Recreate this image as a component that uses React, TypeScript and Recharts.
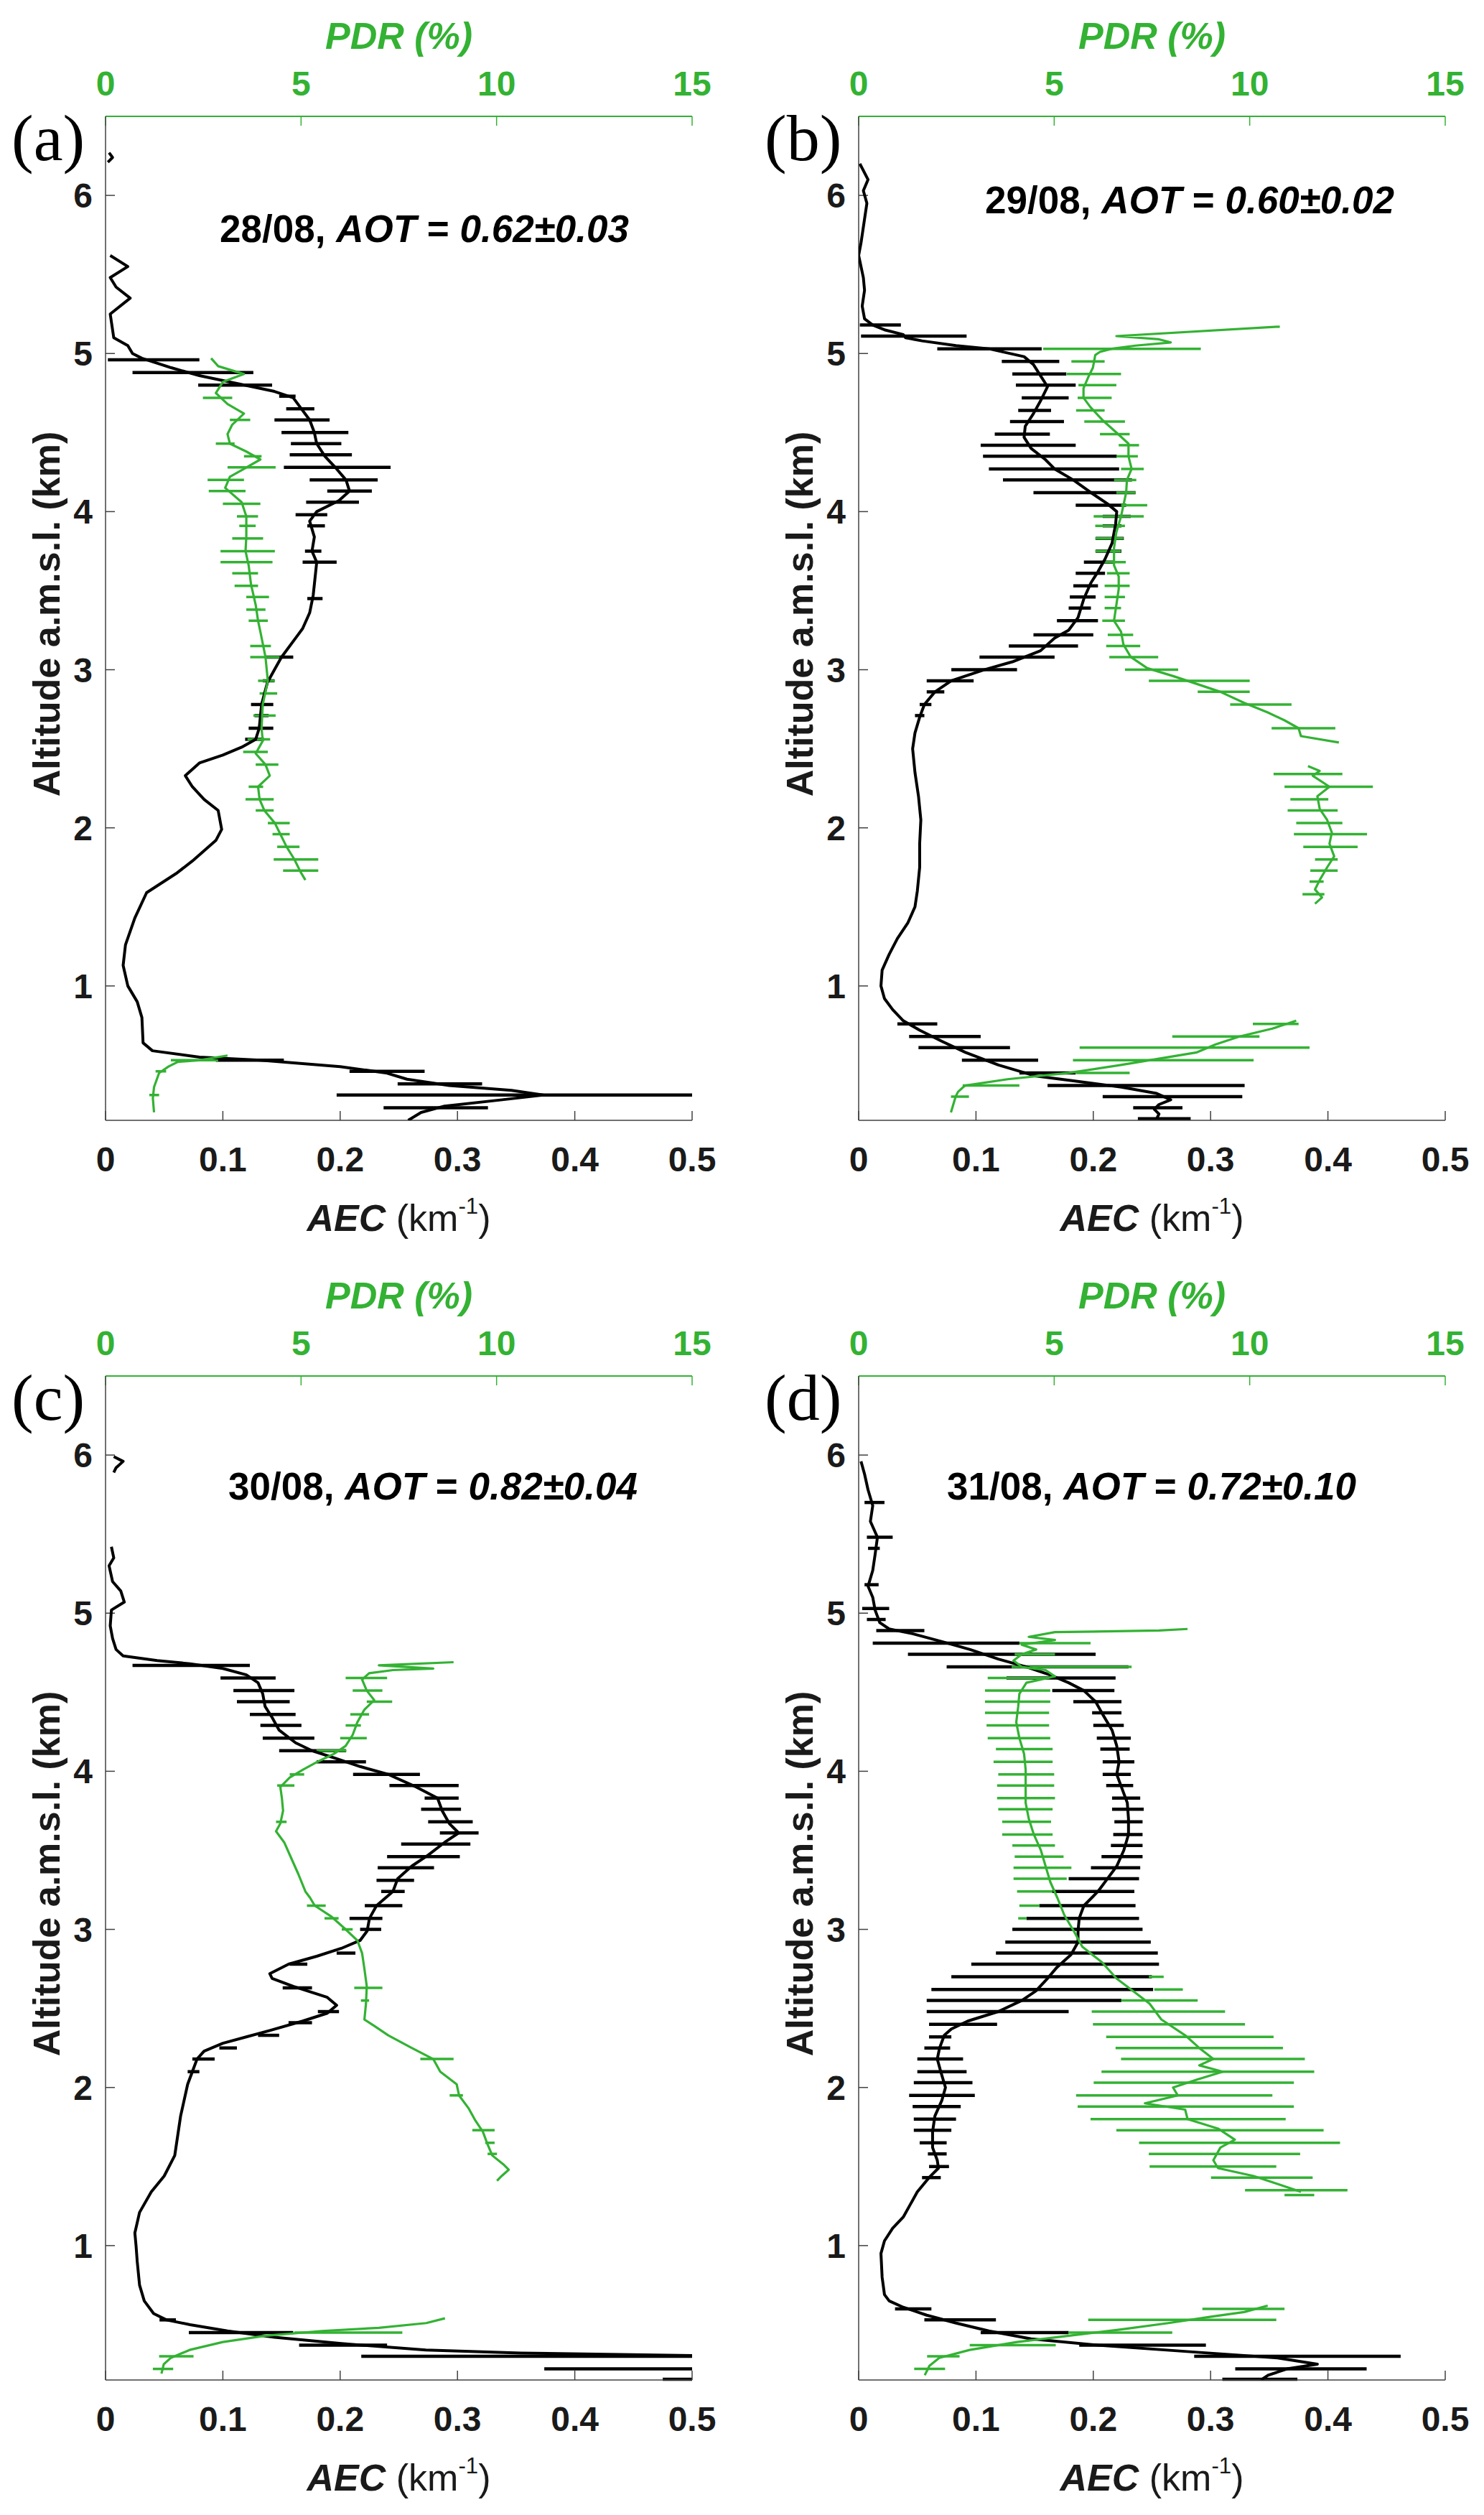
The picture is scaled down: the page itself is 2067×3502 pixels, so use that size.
import { ScatterChart, Scatter, XAxis, YAxis, ErrorBar } from 'recharts'

type Pt = [number, number] // [altitude km, value]
type Bar = [number, number, number] // [altitude km, low, high]

const altTicks = [1, 2, 3, 4, 5, 6]
const aecTicks = [0, 0.1, 0.2, 0.3, 0.4, 0.5]
const pdrTicks = [0, 5, 10, 15]

// ---- (a) 28/08 ----
const aecA0: Pt[] = [[6.27, 0.003], [6.24, 0.006], [6.21, 0.002]]
const aecA: Pt[] = [
  [5.62, 0.004], [5.55, 0.019], [5.48, 0.004], [5.42, 0.009], [5.35, 0.021], [5.25, 0.004],
  [5.1, 0.007], [5.05, 0.019], [5.0, 0.023], [4.97, 0.031], [4.91, 0.056], [4.86, 0.08],
  [4.81, 0.112], [4.76, 0.144], [4.72, 0.16], [4.66, 0.166], [4.58, 0.174], [4.5, 0.178],
  [4.43, 0.18], [4.35, 0.187], [4.27, 0.197], [4.2, 0.205], [4.13, 0.208], [4.07, 0.199],
  [4.0, 0.18], [3.94, 0.174], [3.84, 0.178], [3.75, 0.176], [3.68, 0.18], [3.54, 0.178],
  [3.47, 0.177], [3.36, 0.174], [3.26, 0.168], [3.22, 0.164], [3.08, 0.15], [3.0, 0.144],
  [2.92, 0.138], [2.78, 0.133], [2.63, 0.131], [2.56, 0.128], [2.51, 0.116], [2.46, 0.1],
  [2.41, 0.08], [2.33, 0.068], [2.26, 0.074], [2.18, 0.084], [2.11, 0.096], [1.99, 0.099],
  [1.92, 0.094], [1.79, 0.074], [1.71, 0.06], [1.59, 0.035], [1.43, 0.025], [1.26, 0.017],
  [1.13, 0.015], [1.0, 0.019], [0.9, 0.027], [0.8, 0.031], [0.64, 0.032], [0.59, 0.04],
  [0.55, 0.08], [0.53, 0.132], [0.49, 0.2], [0.45, 0.239], [0.41, 0.257], [0.37, 0.293],
  [0.34, 0.346], [0.31, 0.373], [0.28, 0.338], [0.24, 0.289], [0.2, 0.269], [0.15, 0.258],
]
const pdrA1: Pt[] = [
  [4.97, 2.7], [4.92, 2.88], [4.87, 3.54], [4.82, 3.0], [4.75, 2.82], [4.68, 3.12], [4.62, 3.54],
  [4.55, 3.24], [4.49, 3.12], [4.43, 3.18], [4.38, 3.6], [4.33, 3.96], [4.27, 3.54], [4.22, 3.18],
  [4.15, 3.06], [4.06, 3.48], [3.97, 3.6], [3.84, 3.6], [3.75, 3.58], [3.66, 3.66], [3.54, 3.72],
  [3.41, 3.84], [3.31, 3.9], [3.24, 3.96], [3.08, 4.09], [2.93, 4.15], [2.78, 4.02], [2.63, 3.99],
  [2.55, 4.02], [2.47, 3.84], [2.4, 4.09], [2.33, 4.2], [2.26, 3.9], [2.18, 3.94], [2.11, 4.06],
  [2.03, 4.33], [1.96, 4.47], [1.88, 4.63], [1.8, 4.83], [1.72, 4.99], [1.67, 5.11],
]
const pdrA2: Pt[] = [
  [0.56, 3.12], [0.53, 2.39], [0.52, 1.85], [0.49, 1.61], [0.45, 1.37], [0.36, 1.24], [0.29, 1.21], [0.2, 1.24],
]
const aecErrA: Bar[] = [
  [4.96, 0.002, 0.08], [4.88, 0.023, 0.126], [4.8, 0.079, 0.142], [4.73, 0.148, 0.162],
  [4.65, 0.154, 0.178], [4.58, 0.144, 0.191], [4.5, 0.15, 0.207], [4.43, 0.158, 0.201],
  [4.36, 0.157, 0.21], [4.28, 0.152, 0.243], [4.2, 0.174, 0.232], [4.13, 0.189, 0.227],
  [4.06, 0.171, 0.216], [3.98, 0.162, 0.189], [3.91, 0.172, 0.187], [3.75, 0.17, 0.184],
  [3.68, 0.168, 0.197], [3.45, 0.172, 0.185], [3.08, 0.137, 0.16], [2.93, 0.134, 0.144],
  [2.78, 0.124, 0.143], [2.71, 0.127, 0.139], [2.63, 0.122, 0.143], [2.56, 0.119, 0.135],
  [0.53, 0.094, 0.152], [0.46, 0.208, 0.272], [0.38, 0.249, 0.321], [0.31, 0.197, 0.5],
  [0.23, 0.237, 0.326],
]
const pdrErrA: Bar[] = [
  [4.72, 2.49, 3.24], [4.58, 3.18, 3.7], [4.43, 2.82, 3.3], [4.35, 3.54, 3.99], [4.28, 3.12, 4.35],
  [4.2, 2.61, 3.54], [4.13, 2.64, 3.58], [4.05, 3.0, 3.96], [3.97, 3.36, 3.9], [3.91, 3.42, 3.84],
  [3.83, 3.24, 4.03], [3.75, 2.94, 4.33], [3.68, 2.94, 4.27], [3.61, 3.24, 3.9], [3.53, 3.3, 3.9],
  [3.46, 3.6, 4.18], [3.38, 3.6, 4.09], [3.31, 3.66, 4.15], [3.15, 3.7, 4.23], [3.08, 3.7, 4.45],
  [2.93, 3.9, 4.33], [2.85, 3.94, 4.39], [2.71, 3.78, 4.35], [2.56, 3.63, 4.21], [2.48, 3.52, 4.15],
  [2.4, 3.84, 4.42], [2.26, 3.66, 4.03], [2.18, 3.58, 4.3], [2.11, 3.84, 4.3], [2.03, 4.15, 4.71],
  [1.96, 4.27, 4.71], [1.88, 4.39, 4.96], [1.8, 4.3, 5.44], [1.73, 4.54, 5.44],
  [0.53, 1.67, 2.88], [0.46, 1.28, 1.55], [0.31, 1.12, 1.37],
]

// ---- (b) 29/08 ----
const aecB: Pt[] = [
  [6.2, 0.001], [6.1, 0.008], [6.03, 0.004], [5.95, 0.007], [5.85, 0.005], [5.7, 0.002], [5.62, 0.0],
  [5.48, 0.004], [5.4, 0.005], [5.3, 0.003], [5.22, 0.005], [5.18, 0.012], [5.15, 0.022], [5.12, 0.038],
  [5.1, 0.04], [5.08, 0.054], [5.05, 0.083], [5.03, 0.111], [4.98, 0.141], [4.93, 0.149], [4.86, 0.155],
  [4.79, 0.161], [4.7, 0.155], [4.62, 0.149], [4.54, 0.142], [4.47, 0.141], [4.4, 0.147], [4.33, 0.159],
  [4.27, 0.167], [4.2, 0.183], [4.12, 0.198], [4.05, 0.212], [4.0, 0.22], [3.92, 0.219], [3.8, 0.216],
  [3.7, 0.21], [3.62, 0.204], [3.55, 0.198], [3.45, 0.192], [3.33, 0.187], [3.25, 0.179], [3.2, 0.167],
  [3.12, 0.155], [3.05, 0.131], [3.0, 0.107], [2.93, 0.079], [2.86, 0.065], [2.78, 0.056], [2.7, 0.052],
  [2.6, 0.048], [2.5, 0.046], [2.35, 0.048], [2.2, 0.051], [2.05, 0.053], [1.9, 0.052], [1.75, 0.052],
  [1.6, 0.05], [1.5, 0.048], [1.4, 0.042], [1.3, 0.033], [1.2, 0.026], [1.1, 0.02], [1.0, 0.019],
  [0.92, 0.022], [0.85, 0.029], [0.78, 0.038], [0.72, 0.052], [0.65, 0.071], [0.58, 0.091], [0.5, 0.119],
  [0.43, 0.151], [0.4, 0.183], [0.36, 0.224], [0.32, 0.254], [0.28, 0.266], [0.25, 0.256], [0.22, 0.252],
  [0.19, 0.256], [0.16, 0.254],
]
const pdrB1: Pt[] = [
  [5.17, 10.77], [5.11, 6.59], [5.09, 7.68], [5.07, 7.98], [5.05, 7.08], [5.03, 6.47], [5.01, 6.17],
  [4.99, 6.05], [4.91, 5.99], [4.85, 5.87], [4.78, 5.75], [4.72, 5.75], [4.66, 5.93], [4.58, 6.23],
  [4.5, 6.59], [4.43, 6.9], [4.35, 6.9], [4.27, 6.98], [4.2, 6.86], [4.12, 6.84], [4.04, 6.77],
  [3.97, 6.71], [3.87, 6.59], [3.77, 6.53], [3.66, 6.53], [3.59, 6.65], [3.51, 6.65], [3.41, 6.59],
  [3.31, 6.53], [3.24, 6.71], [3.16, 6.77], [3.08, 6.96], [3.01, 7.38], [2.96, 8.04], [2.91, 8.65],
  [2.86, 9.25], [2.79, 9.86], [2.73, 10.46], [2.68, 10.89], [2.63, 11.25], [2.58, 11.31], [2.54, 12.28],
]
const pdrB2: Pt[] = [
  [2.39, 11.49], [2.36, 11.79], [2.33, 11.61], [2.26, 12.04], [2.2, 11.73], [2.12, 11.79], [2.05, 11.98],
  [1.97, 12.1], [1.9, 12.04], [1.82, 12.16], [1.75, 11.98], [1.67, 11.79], [1.61, 11.67], [1.56, 11.85],
  [1.52, 11.67],
]
const pdrB3: Pt[] = [
  [0.78, 11.19], [0.73, 10.58], [0.68, 9.74], [0.63, 9.13], [0.58, 8.65], [0.54, 7.68], [0.5, 6.71],
  [0.45, 5.38], [0.41, 3.81], [0.37, 2.72], [0.33, 2.54], [0.3, 2.48], [0.25, 2.42], [0.2, 2.36],
]
const aecErrB: Bar[] = [
  [5.18, 0.001, 0.036], [5.11, 0.002, 0.092], [5.03, 0.067, 0.156], [4.95, 0.122, 0.171],
  [4.87, 0.131, 0.177], [4.8, 0.134, 0.185], [4.72, 0.139, 0.179], [4.64, 0.136, 0.164],
  [4.57, 0.129, 0.175], [4.49, 0.116, 0.163], [4.42, 0.104, 0.185], [4.35, 0.106, 0.22],
  [4.27, 0.111, 0.222], [4.2, 0.123, 0.233], [4.12, 0.149, 0.236], [4.04, 0.185, 0.228],
  [3.97, 0.208, 0.232], [3.91, 0.208, 0.224], [3.83, 0.202, 0.226], [3.75, 0.202, 0.224],
  [3.68, 0.192, 0.218], [3.61, 0.185, 0.21], [3.53, 0.183, 0.204], [3.46, 0.18, 0.202],
  [3.39, 0.179, 0.198], [3.31, 0.169, 0.204], [3.22, 0.149, 0.2], [3.15, 0.128, 0.187],
  [3.08, 0.103, 0.167], [3.0, 0.079, 0.135], [2.93, 0.058, 0.098], [2.86, 0.058, 0.073],
  [2.78, 0.052, 0.062], [2.71, 0.048, 0.056], [0.76, 0.033, 0.067], [0.68, 0.043, 0.104],
  [0.61, 0.051, 0.129], [0.53, 0.088, 0.153], [0.45, 0.137, 0.185], [0.37, 0.161, 0.329],
  [0.3, 0.208, 0.327], [0.23, 0.234, 0.276], [0.16, 0.238, 0.283],
]
const pdrErrB: Bar[] = [
  [5.03, 4.72, 8.75], [4.95, 5.44, 6.29], [4.87, 5.32, 6.71], [4.8, 5.62, 6.59], [4.72, 5.6, 6.47],
  [4.64, 5.56, 6.29], [4.57, 5.77, 6.81], [4.49, 6.17, 6.93], [4.42, 6.65, 7.17], [4.35, 6.59, 7.14],
  [4.27, 6.71, 7.29], [4.2, 6.53, 7.1], [4.12, 6.59, 7.08], [4.04, 6.71, 7.38], [3.97, 6.01, 7.29],
  [3.91, 6.05, 6.81], [3.83, 6.05, 6.77], [3.75, 6.05, 6.71], [3.68, 6.23, 6.83], [3.61, 6.35, 6.93],
  [3.53, 6.29, 6.93], [3.46, 6.29, 6.81], [3.39, 6.29, 6.71], [3.31, 6.23, 6.81], [3.22, 6.37, 7.02],
  [3.15, 6.33, 7.2], [3.08, 6.41, 7.66], [3.0, 6.81, 8.17], [2.93, 7.42, 10.0], [2.86, 8.67, 10.0],
  [2.78, 9.5, 11.07], [2.63, 10.56, 12.19], [2.34, 10.61, 12.37], [2.26, 10.89, 13.15],
  [2.18, 11.04, 12.01], [2.11, 10.97, 12.25], [2.03, 11.19, 12.37], [1.96, 11.13, 13.0],
  [1.88, 11.37, 12.76], [1.8, 11.67, 12.25], [1.73, 11.55, 12.25], [1.66, 11.53, 11.89],
  [1.58, 11.35, 11.91], [0.76, 10.08, 11.25], [0.68, 8.02, 10.25], [0.61, 5.65, 11.53],
  [0.53, 5.48, 10.1], [0.45, 5.56, 6.93], [0.37, 2.66, 4.11], [0.3, 2.36, 2.82],
]

// ---- (c) 30/08 ----
const aecC0: Pt[] = [[5.99, 0.007], [5.96, 0.015], [5.92, 0.009], [5.89, 0.007]]
const aecC: Pt[] = [
  [5.42, 0.005], [5.35, 0.007], [5.3, 0.003], [5.2, 0.006], [5.14, 0.013], [5.07, 0.016], [5.02, 0.005],
  [4.92, 0.004], [4.84, 0.006], [4.77, 0.009], [4.73, 0.015], [4.7, 0.044], [4.68, 0.072], [4.65, 0.1],
  [4.61, 0.12], [4.56, 0.13], [4.49, 0.134], [4.41, 0.136], [4.34, 0.142], [4.26, 0.148], [4.18, 0.162],
  [4.13, 0.176], [4.08, 0.197], [4.03, 0.217], [3.98, 0.241], [3.9, 0.265], [3.83, 0.283], [3.75, 0.287],
  [3.67, 0.293], [3.61, 0.301], [3.55, 0.289], [3.47, 0.275], [3.4, 0.261], [3.32, 0.249], [3.24, 0.245],
  [3.15, 0.231], [3.07, 0.225], [2.99, 0.223], [2.93, 0.217], [2.88, 0.201], [2.83, 0.18], [2.78, 0.156],
  [2.72, 0.14], [2.69, 0.142], [2.64, 0.16], [2.57, 0.189], [2.52, 0.197], [2.47, 0.189], [2.42, 0.168],
  [2.36, 0.14], [2.32, 0.12], [2.28, 0.1], [2.23, 0.084], [2.18, 0.078], [2.1, 0.074], [2.02, 0.07],
  [1.92, 0.067], [1.82, 0.064], [1.72, 0.062], [1.57, 0.059], [1.44, 0.05], [1.34, 0.039], [1.21, 0.029],
  [1.08, 0.025], [1.0, 0.026], [0.9, 0.027], [0.75, 0.029], [0.65, 0.033], [0.57, 0.041], [0.53, 0.052],
  [0.5, 0.072], [0.46, 0.104], [0.42, 0.144], [0.38, 0.201], [0.34, 0.273], [0.32, 0.354], [0.305, 0.5],
]
const pdrC1: Pt[] = [
  [4.69, 8.9], [4.67, 6.99], [4.65, 8.38], [4.64, 7.35], [4.62, 6.74], [4.58, 6.56], [4.51, 6.68],
  [4.45, 6.87], [4.39, 6.62], [4.31, 6.44], [4.23, 6.32], [4.16, 6.14], [4.11, 5.84], [4.06, 5.42],
  [4.01, 5.05], [3.96, 4.71], [3.9, 4.47], [3.83, 4.51], [3.75, 4.54], [3.67, 4.47], [3.62, 4.36],
  [3.55, 4.57], [3.45, 4.75], [3.35, 4.93], [3.24, 5.11], [3.2, 5.23], [3.15, 5.35], [3.08, 5.78],
  [3.0, 6.14], [2.93, 6.44], [2.85, 6.56], [2.75, 6.62], [2.64, 6.68], [2.53, 6.66], [2.43, 6.62],
  [2.39, 6.87], [2.33, 7.23], [2.25, 7.83], [2.18, 8.38], [2.1, 8.56], [2.02, 8.98], [1.95, 9.04],
  [1.87, 9.28], [1.79, 9.46], [1.72, 9.65], [1.64, 9.77], [1.57, 9.89], [1.51, 10.19], [1.48, 10.31],
  [1.44, 10.13], [1.41, 10.01],
]
const pdrC2: Pt[] = [
  [0.54, 8.68], [0.51, 8.2], [0.48, 6.99], [0.46, 5.54], [0.43, 4.09], [0.39, 3.0], [0.34, 2.15],
  [0.29, 1.67], [0.25, 1.49], [0.19, 1.43],
]
const aecErrC: Bar[] = [
  [4.67, 0.023, 0.123], [4.59, 0.098, 0.145], [4.51, 0.109, 0.161], [4.44, 0.112, 0.157],
  [4.36, 0.123, 0.162], [4.29, 0.132, 0.167], [4.21, 0.134, 0.178], [4.13, 0.148, 0.205],
  [4.06, 0.18, 0.222], [3.98, 0.211, 0.268], [3.91, 0.242, 0.301], [3.83, 0.272, 0.301],
  [3.76, 0.269, 0.303], [3.68, 0.275, 0.313], [3.61, 0.285, 0.318], [3.54, 0.252, 0.311],
  [3.46, 0.24, 0.302], [3.39, 0.232, 0.28], [3.31, 0.231, 0.263], [3.24, 0.235, 0.255],
  [3.15, 0.221, 0.253], [3.07, 0.208, 0.236], [3.0, 0.217, 0.235], [2.85, 0.197, 0.213],
  [2.78, 0.157, 0.172], [2.63, 0.151, 0.176], [2.48, 0.181, 0.199], [2.41, 0.156, 0.176],
  [2.33, 0.13, 0.148], [2.25, 0.097, 0.112], [2.18, 0.074, 0.093], [2.1, 0.07, 0.08],
  [0.53, 0.046, 0.06], [0.45, 0.071, 0.16], [0.37, 0.165, 0.24], [0.3, 0.218, 0.5],
  [0.22, 0.374, 0.5], [0.155, 0.475, 0.5],
]
const pdrErrC: Bar[] = [
  [4.59, 6.14, 7.2], [4.51, 6.32, 7.08], [4.44, 6.68, 7.33], [4.36, 6.26, 6.74], [4.29, 6.14, 6.53],
  [4.21, 6.0, 6.68], [4.13, 5.39, 6.16], [3.98, 4.71, 5.08], [3.91, 4.39, 4.83], [3.68, 4.36, 4.63],
  [3.15, 5.15, 5.63], [3.07, 5.6, 5.96], [3.0, 6.04, 6.32], [2.63, 6.36, 7.08], [2.55, 6.53, 6.74],
  [2.18, 8.05, 8.9], [1.95, 8.8, 9.14], [1.73, 9.38, 9.95], [1.65, 9.71, 9.95], [1.58, 9.77, 10.01],
  [0.45, 4.83, 7.59], [0.3, 1.37, 2.25], [0.22, 1.21, 1.73],
]

// ---- (d) 31/08 ----
const aecD: Pt[] = [
  [5.96, 0.002], [5.88, 0.005], [5.78, 0.008], [5.68, 0.012], [5.58, 0.01], [5.48, 0.016], [5.37, 0.014],
  [5.27, 0.012], [5.17, 0.008], [5.1, 0.012], [5.02, 0.014], [4.94, 0.018], [4.9, 0.026], [4.87, 0.046],
  [4.82, 0.071], [4.77, 0.095], [4.71, 0.119], [4.66, 0.143], [4.61, 0.163], [4.56, 0.179], [4.51, 0.192],
  [4.44, 0.202], [4.36, 0.208], [4.26, 0.216], [4.16, 0.22], [4.06, 0.222], [3.98, 0.22], [3.9, 0.224],
  [3.8, 0.229], [3.7, 0.23], [3.6, 0.23], [3.5, 0.226], [3.4, 0.22], [3.32, 0.212], [3.24, 0.204],
  [3.15, 0.192], [3.07, 0.188], [2.99, 0.187], [2.92, 0.187], [2.84, 0.181], [2.76, 0.169], [2.69, 0.161],
  [2.61, 0.151], [2.55, 0.139], [2.48, 0.119], [2.42, 0.093], [2.37, 0.079], [2.33, 0.073], [2.25, 0.069],
  [2.18, 0.067], [2.1, 0.07], [2.0, 0.074], [1.92, 0.071], [1.82, 0.065], [1.72, 0.063], [1.62, 0.063],
  [1.54, 0.067], [1.49, 0.068], [1.43, 0.06], [1.34, 0.05], [1.26, 0.044], [1.18, 0.038], [1.11, 0.029],
  [1.03, 0.022], [0.95, 0.019], [0.8, 0.02], [0.69, 0.022], [0.65, 0.026], [0.61, 0.038], [0.56, 0.058],
  [0.51, 0.083], [0.46, 0.111], [0.41, 0.147], [0.37, 0.204], [0.33, 0.28], [0.29, 0.357], [0.25, 0.391],
  [0.22, 0.365], [0.18, 0.349], [0.15, 0.343],
]
const pdrD1: Pt[] = [
  [4.9, 8.41], [4.89, 7.68], [4.88, 5.02], [4.85, 4.35], [4.83, 5.02], [4.8, 4.17], [4.77, 4.54],
  [4.74, 4.17], [4.7, 3.96], [4.66, 4.17], [4.64, 4.78], [4.6, 5.02], [4.56, 4.29], [4.49, 4.11],
  [4.41, 4.08], [4.31, 4.03], [4.21, 4.11], [4.11, 4.23], [4.01, 4.27], [3.9, 4.27], [3.8, 4.27],
  [3.7, 4.35], [3.6, 4.48], [3.5, 4.66], [3.4, 4.78], [3.3, 4.9], [3.2, 5.08], [3.09, 5.26], [2.99, 5.5],
  [2.89, 5.72], [2.79, 6.23], [2.69, 6.59], [2.61, 7.02], [2.53, 7.44], [2.43, 7.74], [2.33, 8.35],
  [2.25, 8.71], [2.18, 9.07], [2.14, 8.71], [2.1, 9.31], [2.05, 8.65], [2.0, 8.04], [1.95, 8.16],
  [1.9, 7.32], [1.86, 8.35], [1.8, 8.41], [1.74, 9.19], [1.67, 9.62], [1.62, 9.25], [1.54, 9.07],
  [1.49, 9.19], [1.44, 10.1], [1.39, 10.71], [1.34, 11.31],
]
const pdrD2: Pt[] = [
  [0.62, 10.46], [0.58, 9.86], [0.55, 9.01], [0.51, 7.92], [0.47, 6.71], [0.43, 5.38], [0.39, 4.05],
  [0.34, 2.84], [0.29, 2.06], [0.24, 1.81], [0.18, 1.69],
]
const aecErrD: Bar[] = [
  [5.7, 0.005, 0.022], [5.48, 0.007, 0.029], [5.41, 0.008, 0.018], [5.18, 0.005, 0.017],
  [5.03, 0.003, 0.026], [4.96, 0.007, 0.023], [4.89, 0.015, 0.056], [4.81, 0.012, 0.137],
  [4.74, 0.042, 0.202], [4.66, 0.075, 0.23], [4.59, 0.126, 0.219], [4.51, 0.165, 0.218],
  [4.44, 0.183, 0.224], [4.37, 0.199, 0.224], [4.29, 0.2, 0.226], [4.21, 0.203, 0.232],
  [4.14, 0.206, 0.231], [4.06, 0.208, 0.235], [3.98, 0.208, 0.232], [3.91, 0.211, 0.234],
  [3.83, 0.216, 0.24], [3.76, 0.216, 0.243], [3.68, 0.218, 0.242], [3.6, 0.217, 0.242],
  [3.53, 0.215, 0.242], [3.46, 0.207, 0.242], [3.39, 0.198, 0.24], [3.32, 0.179, 0.239],
  [3.24, 0.165, 0.235], [3.15, 0.154, 0.236], [3.07, 0.143, 0.239], [3.0, 0.131, 0.242],
  [2.92, 0.125, 0.249], [2.85, 0.117, 0.255], [2.78, 0.096, 0.256], [2.7, 0.079, 0.25],
  [2.62, 0.062, 0.251], [2.55, 0.058, 0.224], [2.48, 0.058, 0.179], [2.4, 0.06, 0.118],
  [2.32, 0.06, 0.079], [2.25, 0.056, 0.078], [2.18, 0.05, 0.089], [2.1, 0.05, 0.092],
  [2.03, 0.047, 0.097], [1.95, 0.043, 0.099], [1.88, 0.046, 0.087], [1.8, 0.047, 0.083],
  [1.73, 0.047, 0.079], [1.65, 0.052, 0.075], [1.58, 0.059, 0.075], [1.5, 0.06, 0.077],
  [1.43, 0.054, 0.07], [0.6, 0.031, 0.062], [0.53, 0.056, 0.117], [0.45, 0.104, 0.179],
  [0.37, 0.188, 0.296], [0.3, 0.286, 0.462], [0.22, 0.321, 0.433], [0.155, 0.31, 0.374],
]
const pdrErrD: Bar[] = [
  [4.81, 4.11, 5.93], [4.74, 3.99, 5.02], [4.66, 3.91, 6.98], [4.59, 3.3, 4.87], [4.51, 3.23, 4.9],
  [4.44, 3.23, 4.9], [4.37, 3.23, 4.87], [4.29, 3.27, 4.87], [4.21, 3.3, 4.9], [4.14, 3.51, 4.96],
  [4.06, 3.45, 4.96], [3.98, 3.57, 5.0], [3.91, 3.54, 5.0], [3.83, 3.54, 5.02], [3.76, 3.57, 4.96],
  [3.68, 3.67, 4.92], [3.6, 3.67, 4.96], [3.53, 3.93, 5.02], [3.46, 3.99, 5.24], [3.39, 3.96, 5.44],
  [3.32, 3.96, 5.32], [3.24, 4.05, 4.96], [3.15, 4.11, 4.63], [3.07, 4.08, 4.29], [2.7, 7.42, 7.8],
  [2.62, 7.56, 8.29], [2.55, 6.71, 8.67], [2.48, 5.96, 9.37], [2.4, 5.99, 9.88], [2.32, 6.33, 10.61],
  [2.25, 6.57, 10.85], [2.18, 6.71, 11.41], [2.1, 6.21, 11.65], [2.03, 6.01, 11.13], [1.95, 5.56, 10.58],
  [1.88, 5.6, 11.13], [1.8, 5.93, 10.92], [1.73, 6.59, 11.89], [1.65, 7.17, 12.31], [1.58, 7.42, 11.29],
  [1.5, 7.44, 10.68], [1.43, 9.01, 11.61], [1.35, 9.88, 12.5], [1.32, 10.89, 11.65],
  [0.6, 8.79, 10.89], [0.53, 5.87, 10.68], [0.45, 5.36, 8.02], [0.37, 2.84, 5.04], [0.3, 1.75, 2.58],
  [0.22, 1.42, 2.21],
]

const INK = '#000000'
const AXIS = '#404040'
const LABEL = '#1a1a1a'
const GREEN = '#33b233'
const FONT = '"Liberation Sans", Arial, Helvetica, sans-serif'

const PW = 1018
const PH = 1748
const PLOT = { left: 147, top: 162, right: 964, bottom: 1560 }

interface PanelDef {
  left: number
  top: number
  letter: string
  date: string
  aot: string
  noteX: number
  noteY: number
  aec: Pt[][]
  pdr: Pt[][]
  aecErr: Bar[]
  pdrErr: Bar[]
}

const panels: PanelDef[] = [
  { left: 0, top: 0, letter: '(a)', date: '28/08', aot: '0.62±0.03', noteX: 591, noteY: 318, aec: [aecA0, aecA], pdr: [pdrA1, pdrA2], aecErr: aecErrA, pdrErr: pdrErrA },
  { left: 1049, top: 0, letter: '(b)', date: '29/08', aot: '0.60±0.02', noteX: 608, noteY: 278, aec: [aecB], pdr: [pdrB1, pdrB2, pdrB3], aecErr: aecErrB, pdrErr: pdrErrB },
  { left: 0, top: 1754, letter: '(c)', date: '30/08', aot: '0.82±0.04', noteX: 603, noteY: 315, aec: [aecC0, aecC], pdr: [pdrC1, pdrC2], aecErr: aecErrC, pdrErr: pdrErrC },
  { left: 1049, top: 1754, letter: '(d)', date: '31/08', aot: '0.72±0.10', noteX: 555, noteY: 315, aec: [aecD], pdr: [pdrD1, pdrD2], aecErr: aecErrD, pdrErr: pdrErrD },
]

const toLine = (seg: Pt[]) => seg.map(([alt, v]) => ({ x: v, y: alt }))
const toBars = (bars: Bar[]) =>
  bars.map(([alt, lo, hi]) => ({ x: (lo + hi) / 2, y: alt, e: (hi - lo) / 2 }))

const NoDot = () => null

const tickFont = { fontSize: 48, fontWeight: 700, fontFamily: FONT }

const centered = (x: number, y: number): React.CSSProperties => ({
  position: 'absolute',
  left: x,
  top: y,
  transform: 'translate(-50%, -50%)',
  whiteSpace: 'nowrap',
  lineHeight: 1,
  fontFamily: FONT,
})

// axes get a 1px band (a zero-size axis is not drawn), the margins absorb it
const AX = 1

function Profile({ p }: { p: PanelDef }) {
  const midX = (PLOT.left + PLOT.right) / 2
  return (
    <div style={{ position: 'absolute', left: p.left, top: p.top, width: PW, height: PH }}>
      <ScatterChart
        width={PW}
        height={PH}
        margin={{
          top: PLOT.top - AX,
          left: PLOT.left - AX,
          right: PW - PLOT.right,
          bottom: PH - PLOT.bottom - AX,
        }}
      >
        <XAxis
          xAxisId="aec"
          type="number"
          dataKey="x"
          orientation="bottom"
          domain={[0, 0.5]}
          ticks={aecTicks}
          allowDataOverflow
          height={AX}
          axisLine={{ stroke: AXIS, strokeWidth: 1.5 }}
          tickLine={{ stroke: AXIS, strokeWidth: 1.5 }}
          tickSize={-13}
          tickMargin={50}
          tick={{ ...tickFont, fill: LABEL }}
        />
        <XAxis
          xAxisId="pdr"
          type="number"
          dataKey="x"
          orientation="top"
          domain={[0, 15]}
          ticks={pdrTicks}
          allowDataOverflow
          height={AX}
          axisLine={{ stroke: GREEN, strokeWidth: 2 }}
          tickLine={{ stroke: GREEN, strokeWidth: 1.5 }}
          tickSize={-13}
          tickMargin={42}
          tick={{ ...tickFont, fill: GREEN }}
        />
        <YAxis
          yAxisId="alt"
          type="number"
          dataKey="y"
          domain={[0.15, 6.5]}
          ticks={altTicks}
          allowDataOverflow
          width={AX}
          axisLine={{ stroke: AXIS, strokeWidth: 1.5 }}
          tickLine={{ stroke: AXIS, strokeWidth: 1.5 }}
          tickSize={-13}
          tickMargin={31}
          tick={{ ...tickFont, fill: LABEL }}
        />
        {p.aec.map((seg, i) => (
          <Scatter
            key={'aec' + i}
            xAxisId="aec"
            yAxisId="alt"
            data={toLine(seg)}
            fill={INK}
            line={{ stroke: INK, strokeWidth: 4, strokeLinejoin: 'round' }}
            shape={NoDot}
            isAnimationActive={false}
          />
        ))}
        <Scatter xAxisId="aec" yAxisId="alt" data={toBars(p.aecErr)} fill={INK} shape={NoDot} isAnimationActive={false}>
          <ErrorBar dataKey="e" direction="x" width={0} stroke={INK} strokeWidth={4.5} isAnimationActive={false} />
        </Scatter>
        {p.pdr.map((seg, i) => (
          <Scatter
            key={'pdr' + i}
            xAxisId="pdr"
            yAxisId="alt"
            data={toLine(seg)}
            fill={GREEN}
            line={{ stroke: GREEN, strokeWidth: 3.2, strokeLinejoin: 'round' }}
            shape={NoDot}
            isAnimationActive={false}
          />
        ))}
        <Scatter xAxisId="pdr" yAxisId="alt" data={toBars(p.pdrErr)} fill={GREEN} shape={NoDot} isAnimationActive={false}>
          <ErrorBar dataKey="e" direction="x" width={0} stroke={GREEN} strokeWidth={3.5} isAnimationActive={false} />
        </Scatter>
      </ScatterChart>

      <div style={{ ...centered(midX, 50), fontSize: 52, fontWeight: 700, fontStyle: 'italic', color: GREEN }}>
        PDR (%)
      </div>
      <div style={{ ...centered(midX, 1693), fontSize: 52, color: LABEL }}>
        <b><i>AEC</i></b> (km<sup style={{ fontSize: '0.6em', verticalAlign: '0.8em' }}>-1</sup>)
      </div>
      <div
        style={{
          ...centered(65, 855),
          transform: 'translate(-50%, -50%) rotate(-90deg)',
          fontSize: 52,
          fontWeight: 700,
          color: LABEL,
        }}
      >
        Altitude a.m.s.l. (km)
      </div>
      <div
        style={{
          position: 'absolute',
          left: 16,
          top: 192,
          transform: 'translateY(-50%)',
          fontSize: 92,
          lineHeight: 1,
          fontFamily: '"Liberation Serif", "Times New Roman", serif',
          color: INK,
        }}
      >
        {p.letter}
      </div>
      <div style={{ ...centered(p.noteX, p.noteY), fontSize: 53, fontWeight: 700, color: INK }}>
        {p.date}, <i>AOT</i> = <i>{p.aot}</i>
      </div>
    </div>
  )
}

export default function App() {
  return (
    <div style={{ position: 'absolute', left: 0, top: 0, width: 2067, height: 3502, background: '#fff', overflow: 'hidden' }}>
      {panels.map((p) => (
        <Profile key={p.letter} p={p} />
      ))}
    </div>
  )
}
